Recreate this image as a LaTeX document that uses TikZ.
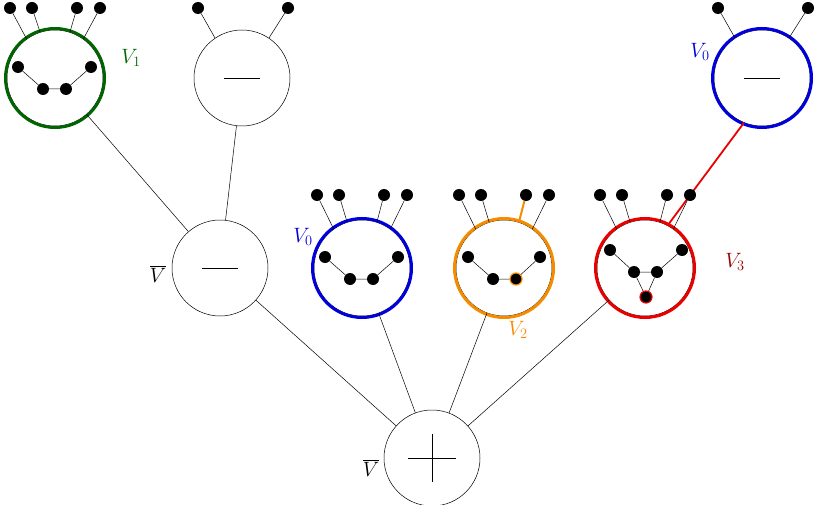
\documentclass[tikz,border=0pt]{standalone}
\usepackage{xcolor}
\definecolor{vgreen}{RGB}{0,100,0}
\definecolor{vblue}{RGB}{0,0,220}
\definecolor{vorange}{RGB}{245,140,0}
\definecolor{vred}{RGB}{235,0,0}
\definecolor{vdred}{RGB}{150,0,0}
\begin{document}
\begin{tikzpicture}[x=1pt,y=-1pt,
  bubble/.style={circle,draw=black,line width=0.5pt,minimum size=96pt,inner sep=0pt},
  dot/.style={circle,fill=black,minimum size=12pt,inner sep=0pt},
  rdot/.style={dot,draw=#1,line width=1.2pt},
  thin/.style={line width=0.5pt},
  lab/.style={font=\fontsize{20}{24}\selectfont}]
\useasboundingbox (0,0) rectangle (818,505);
% bubbles
\node[bubble] (G) at (55,78) {};
\node[bubble] (M) at (242,78) {};
\node[bubble] (R) at (762,78) {};
\node[bubble] (VB) at (220,268) {};
\node[bubble] (B) at (362,268) {};
\node[bubble] (O) at (504,268) {};
\node[bubble] (D) at (645,268) {};
\node[bubble] (P) at (432,458) {};
% coloured rings
\draw[vgreen,line width=3pt] (G) circle (49.5);
\draw[vblue,line width=3pt] (R) circle (49.5);
\draw[vblue,line width=3pt] (B) circle (49.5);
\draw[vorange,line width=3pt] (O) circle (49.5);
\draw[vred,line width=3pt] (D) circle (49.5);
% connectors
\draw[thin] (G) -- (VB);
\draw[thin] (M) -- (VB);
\draw[thin] (VB) -- (P);
\draw[thin] (B) -- (P);
\draw[thin] (O) -- (P);
\draw[thin] (D) -- (P);
\draw[vred,line width=1.8pt] (R.-112) -- (D.62);
% minus / plus
\foreach \c in {M,VB,R} \draw[thin] ([xshift=-18pt]\c.center) -- ([xshift=18pt]\c.center);
\draw[thin] ([xshift=-24pt]P.center) -- ([xshift=24pt]P.center);
\draw[thin] ([yshift=-24pt]P.center) -- ([yshift=24pt]P.center);
% four-dot legs
\foreach \c/\x/\y in {G/55/8,B/362/195,O/504/195,D/645/195}{
  \node[dot] (\c-a) at (\x-45,\y) {};
  \node[dot] (\c-b) at (\x-23,\y) {};
  \node[dot] (\c-c) at (\x+22,\y) {};
  \node[dot] (\c-d) at (\x+45,\y) {};
  \draw[thin] (\c-a) -- (\c.126);
  \draw[thin] (\c-b) -- (\c.108);
  \draw[thin] (\c-d) -- (\c.54);
}
\foreach \c in {G,B,D} \draw[thin] (\c-c) -- (\c.72);
\draw[vorange,line width=2pt] (O-c) -- (O.72);
% two-dot legs
\foreach \c/\x in {M/242,R/762}{
  \node[dot] (\c-a) at (\x-44,8) {};
  \node[dot] (\c-d) at (\x+46,8) {};
  \draw[thin] (\c-a) -- (\c.124);
  \draw[thin] (\c-d) -- (\c.56);
}
% inner graphs
\foreach \c/\x/\y in {G/55/78,B/362/268}{
  \node[dot] (\c-1) at (\x-37,\y-11) {};
  \node[dot] (\c-2) at (\x-12,\y+11) {};
  \node[dot] (\c-3) at (\x+11,\y+11) {};
  \node[dot] (\c-4) at (\x+36,\y-11) {};
  \draw[thin] (\c-1)--(\c-2)--(\c-3)--(\c-4);
}
\node[dot] (O1) at (468,257) {};
\node[dot] (O2) at (493,279) {};
\node[rdot=vorange] (O3) at (516,279) {};
\node[dot] (O4) at (540,257) {};
\draw[thin] (O1)--(O2)--(O3)--(O4);
\node[dot] (D1) at (610,250) {};
\node[dot] (D2) at (634,272) {};
\node[dot] (D3) at (657,272) {};
\node[dot] (D4) at (682,250) {};
\node[rdot=vred] (D5) at (646,297) {};
\draw[thin] (D1)--(D2)--(D3)--(D4);
\draw[thin] (D2)--(D5)--(D3);
% labels
\node[lab,text=vgreen] (L1) at (131,58) {$V_1$};
\node[lab,text=vblue] (L2) at (700,52) {$V_0$};
\node[lab,text=vblue] (L3) at (303,237) {$V_0$};
\node[lab,text=vorange] (L4) at (518,330) {$V_2$};
\node[lab,text=vdred] (L5) at (735,262) {$V_3$};
\node[lab] (L6) at (158,274) {$\overline{V}$};
\node[lab] (L7) at (371,468) {$\overline{V}$};
\end{tikzpicture}
\end{document}
